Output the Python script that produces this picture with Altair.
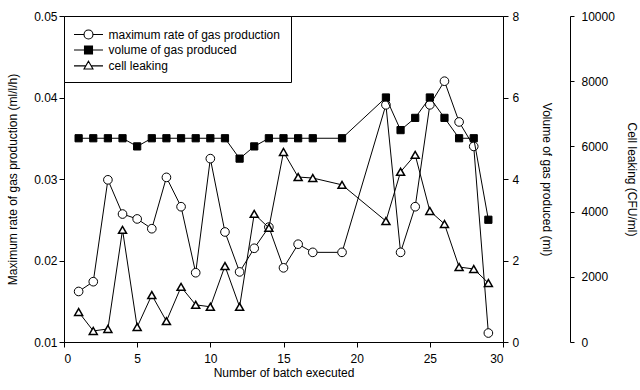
import altair as alt
import pandas as pd

# Batch numbers that were run (18, 20 and 21 are absent)
batch = [1, 2, 3, 4, 5, 6, 7, 8, 9, 10, 11, 12, 13, 14, 15, 16, 17, 19,
         22, 23, 24, 25, 26, 27, 28, 29]
# Maximum rate of gas production (ml/l/h)
max_rate = [0.0162, 0.0174, 0.0299, 0.0257, 0.0251, 0.0239, 0.0302, 0.0266,
            0.0185, 0.0325, 0.0235, 0.0186, 0.0215, 0.0241, 0.0191, 0.0220,
            0.0210, 0.0210, 0.0391, 0.0210, 0.0266, 0.0391, 0.0420, 0.0370,
            0.0340, 0.0111]
# Volume of gas produced (ml)
gas_volume = [5.0, 5.0, 5.0, 5.0, 4.8, 5.0, 5.0, 5.0, 5.0, 5.0, 5.0, 4.5,
              4.8, 5.0, 5.0, 5.0, 5.0, 5.0, 6.0, 5.2, 5.5, 6.0, 5.5, 5.0,
              5.0, 3.0]
# Cell leaking (CFU/ml)
cell_leak = [920, 340, 400, 3440, 460, 1440, 640, 1690, 1140, 1080, 2330,
             1080, 3930, 3500, 5830, 5060, 5030, 4820, 3710, 5220, 5740,
             4020, 3620, 2300, 2240, 1810]

series_names = ["maximum rate of gas production", "volume of gas produced",
                "cell leaking"]
x_ticks = [0, 5, 10, 15, 20, 25, 30]
rate_ticks = [0.01, 0.02, 0.03, 0.04, 0.05]
volume_ticks = [0, 2, 4, 6, 8]
cell_ticks = [0, 2000, 4000, 6000, 8000, 10000]

FONT = "Liberation Sans"

df = pd.DataFrame({"batch": batch, "rate": max_rate,
                   "volume": gas_volume, "cells": cell_leak})
base = alt.Chart(df)

x_enc = alt.X("batch:Q",
              scale=alt.Scale(domain=[0, 30], nice=False, zero=False),
              axis=alt.Axis(values=x_ticks, title="Number of batch executed",
                            labelPadding=6, titlePadding=3))

# Left axis: maximum rate, open circles
y_rate = alt.Y("rate:Q",
               scale=alt.Scale(domain=[0.01, 0.05], nice=False, zero=False),
               axis=alt.Axis(values=rate_ticks, format=".2f", orient="left",
                             title="Maximum rate of gas production (ml/l/h)",
                             labelPadding=2, titlePadding=14))
rate_layer = alt.layer(
    base.mark_line(color="black", strokeWidth=1).encode(x=x_enc, y=y_rate),
    base.mark_point(shape="circle", filled=True, fill="white", stroke="black",
                    strokeWidth=1, size=75, opacity=1).encode(x=x_enc, y=y_rate),
)

# First right axis: volume, filled squares
y_vol = alt.Y("volume:Q",
              scale=alt.Scale(domain=[0, 8], nice=False, zero=False),
              axis=alt.Axis(values=volume_ticks, format="d", orient="right",
                            title="Volume of gas produced (ml)",
                            labelPadding=4, titlePadding=21))
volume_layer = alt.layer(
    base.mark_line(color="black", strokeWidth=1).encode(x=x_enc, y=y_vol),
    base.mark_point(shape="square", filled=True, fill="black", stroke="black",
                    strokeWidth=1, size=52, opacity=1).encode(x=x_enc, y=y_vol),
)

# Outer right axis: cell leaking, open triangles
y_cell = alt.Y("cells:Q",
               scale=alt.Scale(domain=[0, 10000], nice=False, zero=False),
               axis=alt.Axis(values=cell_ticks, format="d", orient="right",
                             offset=67, title="Cell leaking (CFU/ml)",
                             tickSize=4, labelPadding=7, titlePadding=10))
cell_layer = alt.layer(
    base.mark_line(color="black", strokeWidth=1).encode(x=x_enc, y=y_cell),
    base.mark_point(shape="triangle-up", filled=True, fill="white",
                    stroke="black", strokeWidth=1.5, size=64,
                    opacity=1).encode(x=x_enc, y=y_cell),
)

# Legend symbols: line - marker - line
legend_shapes = [
    "M-2.07,0H-0.64M0.64,0H2.07M-0.64,0A0.64,0.64,0,1,1,0.64,0A0.64,0.64,0,1,1,-0.64,0Z",
    "M-2.07,0H-0.57M0.57,0H2.07M-0.57,-0.57H0.57V0.57H-0.57Z",
    "M-2.07,0.05H-0.38M0.38,0.05H2.07M0,-0.62L0.64,0.5L-0.64,0.5Z",
]
legend_fills = ["white", "black", "white"]
legend_strokes = ["black", "black", "black"]


def make_legend():
    return alt.Legend(orient="top-left", offset=0, padding=10.5,
                      strokeColor="black", fillColor="white", cornerRadius=0,
                      symbolSize=196, symbolStrokeWidth=1.1, symbolOffset=6,
                      labelOffset=12, rowPadding=0.5, labelFont=FONT,
                      labelFontSize=12, labelColor="black", labelLimit=400,
                      symbolOpacity=1)


legend_df = pd.DataFrame({"series": series_names})
legend_layer = alt.Chart(legend_df).transform_filter("false").mark_point(
    filled=True, strokeWidth=1, opacity=1
).encode(
    shape=alt.Shape("series:N", title=None,
                    scale=alt.Scale(domain=series_names, range=legend_shapes),
                    legend=make_legend()),
    fill=alt.Fill("series:N", title=None,
                  scale=alt.Scale(domain=series_names, range=legend_fills),
                  legend=make_legend()),
    stroke=alt.Stroke("series:N", title=None,
                      scale=alt.Scale(domain=series_names, range=legend_strokes),
                      legend=make_legend()),
)

chart = alt.layer(
    rate_layer, volume_layer, cell_layer, legend_layer
).resolve_scale(
    y="independent"
).properties(
    width=439, height=326,
    padding={"left": 64, "top": 16, "right": 137, "bottom": 48},
    autosize=alt.AutoSizeParams(type="none"),
    background="white",
).configure_axis(
    labelFont=FONT, titleFont=FONT, labelFontSize=12, titleFontSize=12,
    titleFontWeight="normal", labelColor="black", titleColor="black",
    domainColor="black", tickColor="black", grid=False, tickSize=5,
    domainWidth=1, tickWidth=1,
).configure_view(
    stroke="black", strokeWidth=1,
)

chart.save("out.html", embed_options={"renderer": "svg", "actions": False})
